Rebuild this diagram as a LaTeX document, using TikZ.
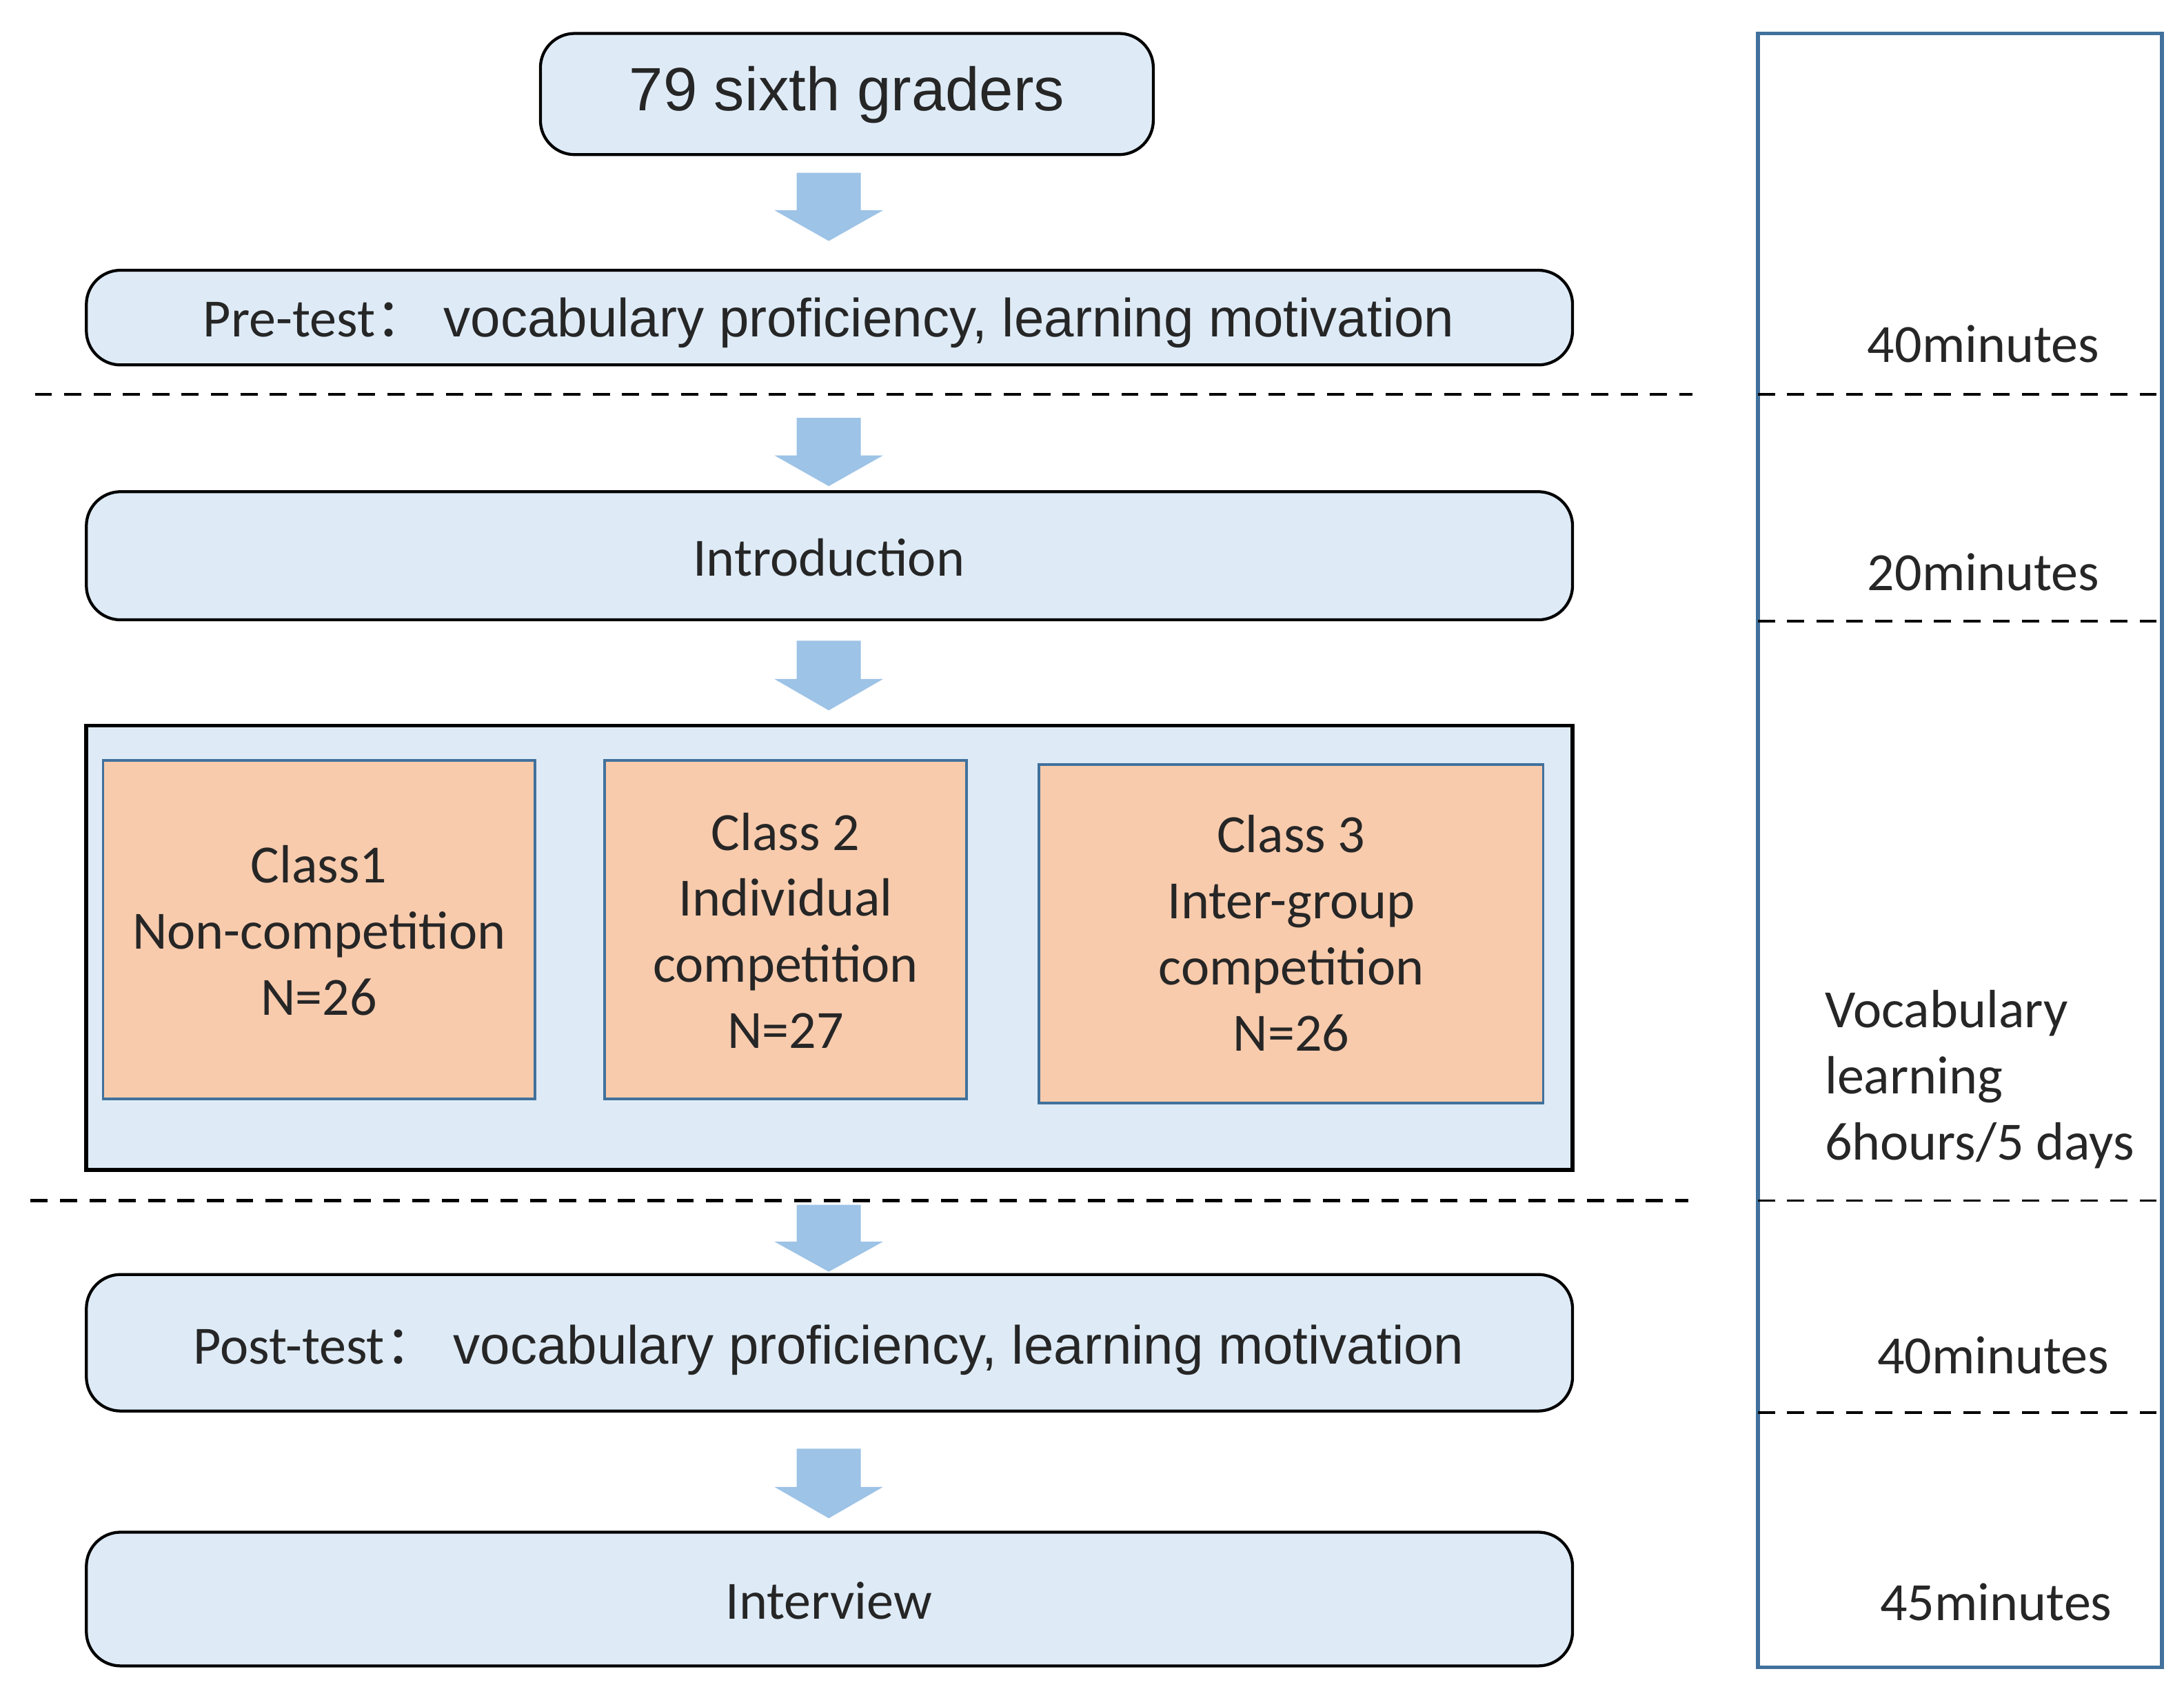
\documentclass[tikz,border=0pt]{standalone}
\usepackage{fontspec}
\setmainfont{Carlito}
\newfontfamily\arial{Liberation Sans}
\newfontfamily\cjk{Noto Sans CJK SC}
\definecolor{lb}{HTML}{DEEBF7}
\definecolor{org}{HTML}{F8CBAD}
\definecolor{ab}{HTML}{9DC3E6}
\definecolor{bb}{HTML}{41719C}
\definecolor{tx}{HTML}{262626}
\begin{document}
\begin{tikzpicture}[x=0.02cm,y=-0.02cm,
  box/.style={draw=black,line width=1.2pt,fill=lb,rounded corners=14pt},
  cls/.style={draw=bb,line width=1pt,fill=org},
  dsh/.style={dashed,line width=1.2pt,dash pattern=on 7pt off 5pt},
  t/.style={text=tx,font=\fontsize{22}{27}\selectfont,align=center},
  ar/.style={text=tx,font=\arial\fontsize{22}{27}\selectfont}]
\useasboundingbox (0,0) rectangle (1568,1218.6);
\newcommand\darr[2]{\fill[ab] (572,#1) -- (618,#1) -- (618,#1+0.55*#2-0.55*#1) -- (634,#1+0.55*#2-0.55*#1) -- (595,#2) -- (556,#1+0.55*#2-0.55*#1) -- (572,#1+0.55*#2-0.55*#1) -- cycle;}
% boxes
\draw[box] (388,24) rectangle (828,111);
\node[ar,font=\arial\fontsize{25}{30}\selectfont] (g) at (608,68) {79 sixth graders};
\darr{124}{173}
\draw[box] (62,194) rectangle (1129,262);
\node[ar,anchor=base] (pre) at (595,242) {{\normalfont Pre-test}{\cjk ：}\ vocabulary proficiency, learning motivation};
\draw[dsh] (25,283) -- (1215,283);
\darr{300}{349}
\draw[box] (62,353) rectangle (1129,445);
\node[t] (intro) at (595,400) {Introduction};
\darr{460}{510}
\draw[line width=1.6pt,fill=lb] (62,521) rectangle (1129,840);
\draw[cls] (74,546) rectangle (384,789);
\node[t] (c1) at (229,668) {Class1\\Non-competition\\N=26};
\draw[cls] (434,546) rectangle (694,789);
\node[t] (c2) at (564,668) {Class 2\\Individual\\competition\\N=27};
\draw[cls] (746,549) rectangle (1108,792);
\node[t] (c3) at (927,670) {Class 3\\Inter-group\\competition\\N=26};
\draw[dsh] (22,862) -- (1212,862);
\darr{865}{913}
\draw[box] (62,915) rectangle (1129,1013);
\node[ar,anchor=base] (post) at (595,979) {{\normalfont Post-test}{\cjk ：}\ vocabulary proficiency, learning motivation};
\darr{1040}{1090}
\draw[box] (62,1100) rectangle (1129,1196);
\node[t] (iv) at (595,1149) {Interview};
% right column
\draw[bb,line width=1.6pt] (1262,24) rectangle (1552,1197);
\foreach \y in {283,446,862,1014} \draw[dsh,line width=1pt] (1262,\y) -- (1552,\y);
\node[t] (m1) at (1424,247) {40minutes};
\node[t] (m2) at (1424,411) {20minutes};
\node[t,align=left,anchor=west] (m3) at (1304,775) {Vocabulary\\learning\\6hours/5 days};
\node[t] (m4) at (1431,973) {40minutes};
\node[t] (m5) at (1433,1150) {45minutes};
\end{tikzpicture}
\end{document}
